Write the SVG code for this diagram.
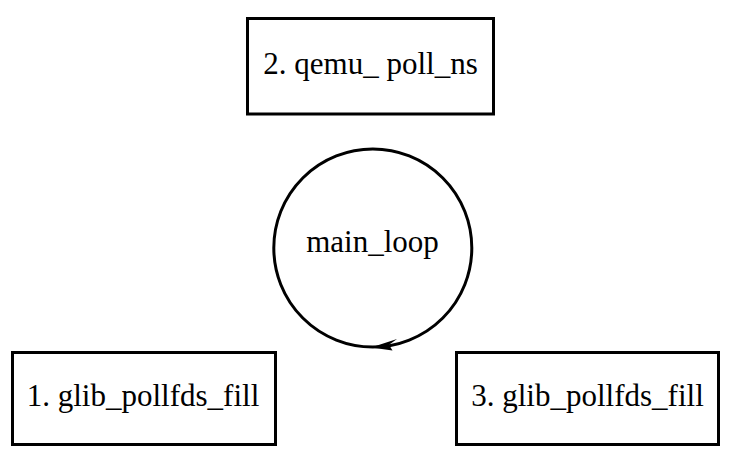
<svg xmlns="http://www.w3.org/2000/svg" width="738" height="455" viewBox="0 0 738 455">
<style>
.box{fill:#fff;stroke:#000;stroke-width:3}
.lbl{font-family:"Liberation Serif","Times New Roman",serif;font-size:31px;fill:#000;text-anchor:middle}
.loop{fill:none;stroke:#000;stroke-width:3}
</style>
<rect width="738" height="455" fill="#fff"/>
<g id="node-qemu-poll-ns">
<rect class="box" x="247.5" y="18.5" width="246" height="95.5"/>
<text class="lbl" x="370.5" y="74">2. qemu_ poll_ns</text>
</g>
<g id="node-glib-pollfds-fill-1">
<rect class="box" x="12.5" y="352.5" width="263" height="92"/>
<text class="lbl" x="143" y="406">1. glib_pollfds_fill</text>
</g>
<g id="node-glib-pollfds-fill-3">
<rect class="box" x="456.5" y="352.5" width="262" height="92"/>
<text class="lbl" x="587.5" y="406">3. glib_pollfds_fill</text>
</g>
<g id="node-main-loop">
<text class="lbl" x="372.5" y="252">main_loop</text>
</g>
<g id="connectors">
<circle class="loop" cx="372.8" cy="248" r="99"/>
<path d="M 371 347.5 L 397 339 L 389 344.8 L 392.5 350.5 Z" fill="#000"/>
</g>
</svg>
